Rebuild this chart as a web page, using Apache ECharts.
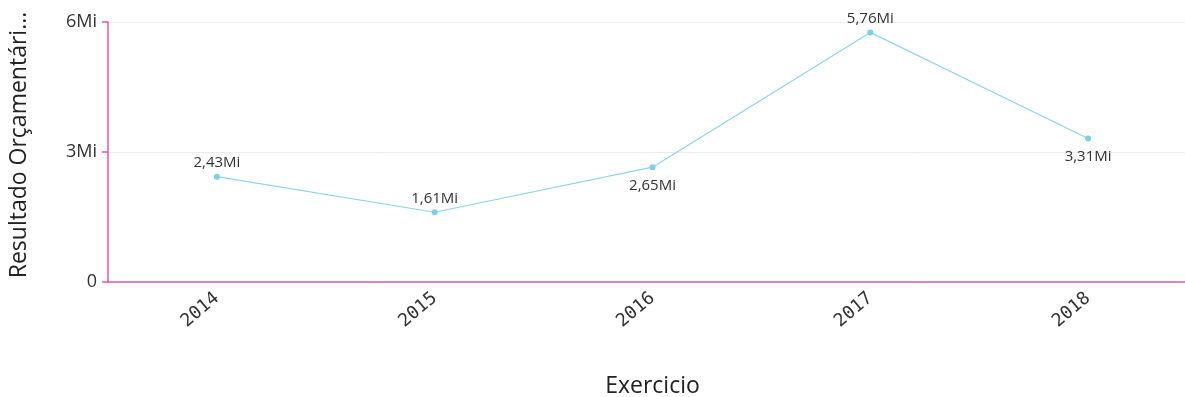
<!DOCTYPE html>
<html><head><meta charset="utf-8">
<script src="https://cdn.jsdelivr.net/npm/echarts@6/dist/echarts.min.js"></script>
<style>html,body{margin:0;padding:0;background:#fff}#c{width:1185px;height:397px}</style>
</head><body><div id="c"></div>
<script>
const categories = ['2014','2015','2016','2017','2018'];
const values = [2430000, 1610000, 2650000, 5760000, 3310000];
const labelTexts = ['2,43Mi','1,61Mi','2,65Mi','5,76Mi','3,31Mi'];
const labelPositions = ['top','top','bottom','top','bottom'];
const yTicks = {0:'0', 3000000:'3Mi', 6000000:'6Mi'};

const chart = echarts.init(document.getElementById('c'));
const pink = '#e05aa8';
chart.setOption({
  animation: false,
  grid: {left: 108, top: 22, width: 1089, height: 260, containLabel: false, outerBoundsMode: 'none'},
  xAxis: {
    type: 'category', data: categories, boundaryGap: true,
    name: 'Exercicio', nameLocation: 'middle', nameGap: 93,
    nameTextStyle: {fontFamily: 'Open Sans', fontSize: 23, color: '#222'},
    axisLine: {lineStyle: {color: pink, width: 1.5}},
    axisTick: {show: false},
    axisLabel: {rotate: 40, fontFamily: 'DejaVu Sans Mono', fontSize: 18, color: '#333', margin: 14}
  },
  yAxis: {
    type: 'value', min: 0, max: 6000000, interval: 3000000,
    name: 'Resultado Orçamentári...', nameLocation: 'middle', nameGap: 77,
    nameTextStyle: {fontFamily: 'Open Sans', fontSize: 23, color: '#222', padding: [0, 0, 0, 14]},
    axisLine: {show: true, lineStyle: {color: pink, width: 1.5}},
    axisTick: {show: true, length: 6, lineStyle: {color: pink, width: 1.5}},
    axisLabel: {fontFamily: 'Open Sans', fontSize: 18, color: '#333', margin: 11,
      formatter: v => yTicks[v] !== undefined ? yTicks[v] : ''},
    splitLine: {show: true, lineStyle: {color: '#ececec', width: 1}}
  },
  series: [{
    type: 'line', data: values.map((v, i) => ({
      value: v,
      label: {show: true, position: labelPositions[i], formatter: labelTexts[i],
        distance: labelPositions[i] === 'top' ? 3 : 8}
    })),
    symbol: 'circle', symbolSize: 6,
    lineStyle: {color: '#8fd5ea', width: 1.2},
    itemStyle: {color: '#7ecfe8'},
    label: {fontFamily: 'Open Sans', fontSize: 15, color: '#333'}
  }]
});
</script></body></html>
